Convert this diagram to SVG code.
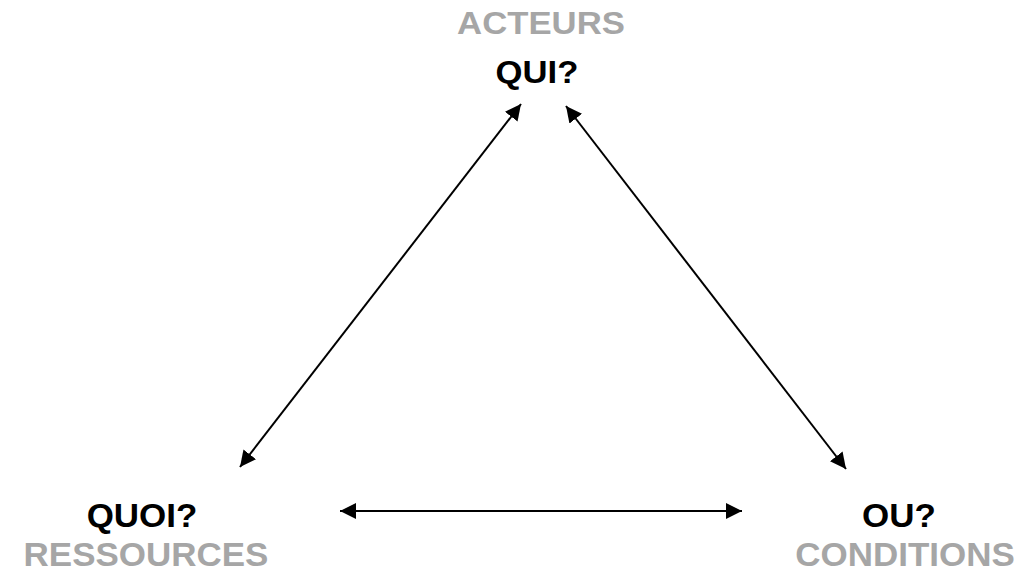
<svg xmlns="http://www.w3.org/2000/svg" width="1022" height="576" viewBox="0 0 1022 576">
<style>
.lbl{font-family:"Liberation Sans",Arial,sans-serif;font-weight:bold;text-anchor:middle;}
.q{fill:#000000;}
.g{fill:#a6a6a6;}
.conn{stroke:#000000;stroke-width:2;fill:none;marker-start:url(#ah);marker-end:url(#ah);}
</style>
<defs>
<marker id="ah" markerUnits="userSpaceOnUse" markerWidth="16" markerHeight="16" refX="16" refY="8" orient="auto-start-reverse" viewBox="0 0 16 16">
<path d="M0,0 L16,8 L0,16 z" fill="#000000"/>
</marker>
</defs>
<rect width="1022" height="576" fill="#ffffff"/>
<g id="connectors">
<line class="conn" x1="240" y1="467" x2="521" y2="104"/>
<line class="conn" x1="566" y1="106" x2="846" y2="469"/>
<line class="conn" x1="340" y1="511" x2="742" y2="511"/>
</g>
<g id="node-qui">
<text class="lbl g" font-size="31" transform="translate(541,34) scale(1.12,1)">ACTEURS</text>
<text class="lbl q" font-size="31" transform="translate(537,83) scale(1.12,1)">QUI?</text>
</g>
<g id="node-quoi">
<text class="lbl q" font-size="33" transform="translate(142,527) scale(1.06,1)">QUOI?</text>
<text class="lbl g" font-size="33" transform="translate(146,566) scale(1.06,1)">RESSOURCES</text>
</g>
<g id="node-ou">
<text class="lbl q" font-size="33" transform="translate(899,527) scale(1.06,1)">OU?</text>
<text class="lbl g" font-size="33" transform="translate(905,566) scale(1.06,1)">CONDITIONS</text>
</g>
</svg>
